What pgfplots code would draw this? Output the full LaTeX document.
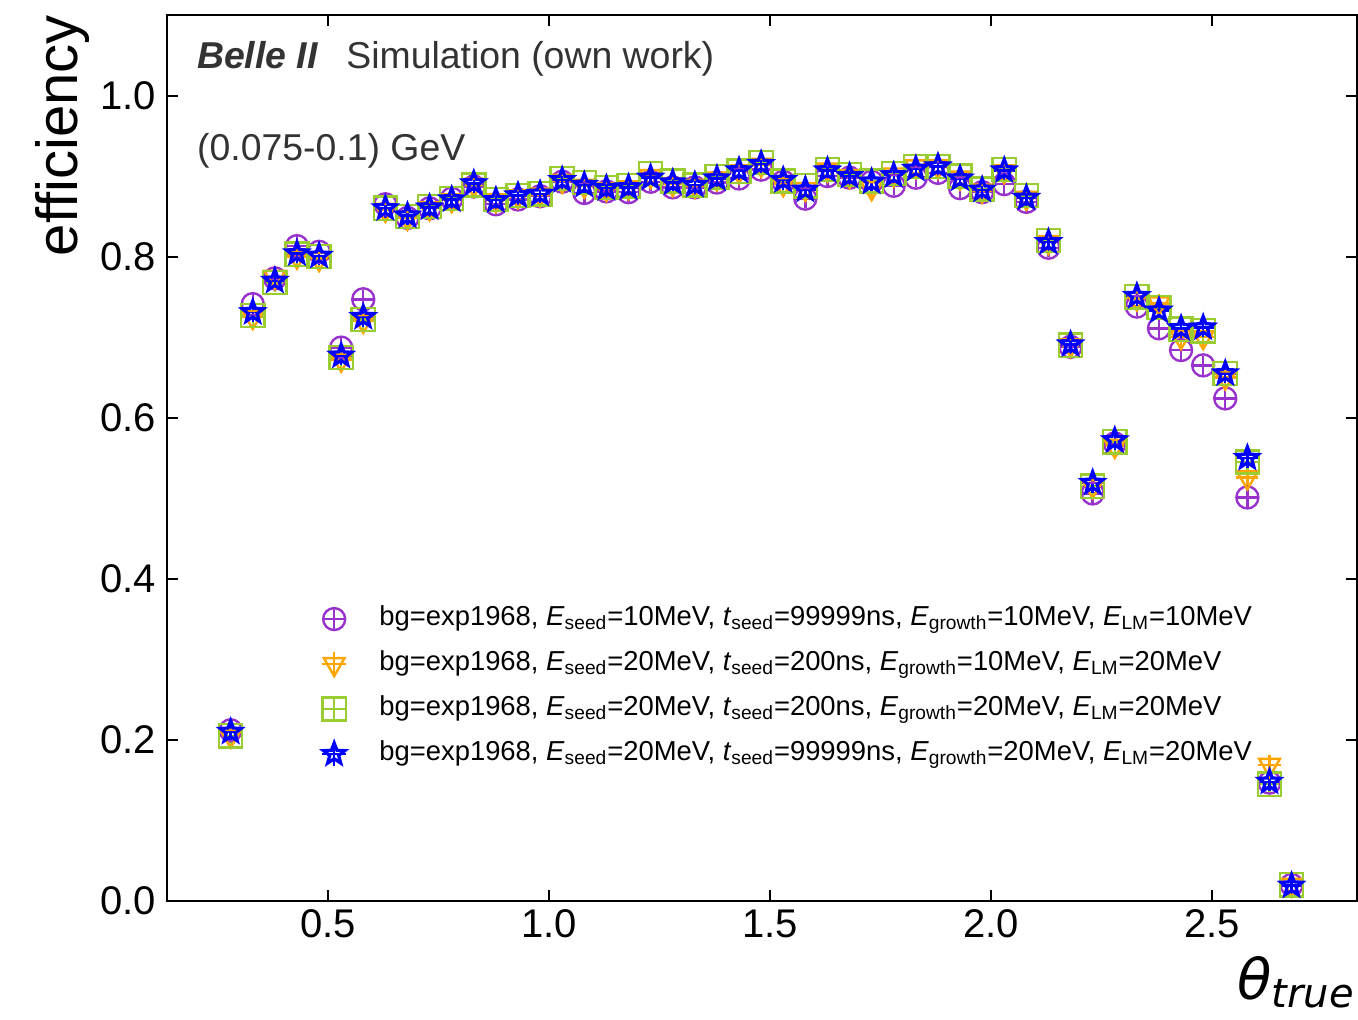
\documentclass[border=0pt]{standalone}
\usepackage{fontspec}
\setmainfont{Liberation Sans}
\newfontfamily\dvs{DejaVu Sans}
\usepackage{pgfplots}
\pgfplotsset{compat=1.18}
\usepackage{pgfplotstable}
\usetikzlibrary{plotmarks}

\definecolor{cP}{HTML}{9932CC}
\definecolor{cO}{HTML}{FFA500}
\definecolor{cG}{HTML}{9ACD32}
\definecolor{cB}{HTML}{0000FF}
\definecolor{tgray}{HTML}{333333}

\pgfdeclareplotmark{fstar}{%
  \pgfpathmoveto{\pgfpointpolar{90}{\pgfplotmarksize}}%
  \pgfpathlineto{\pgfpointpolar{126}{0.42\pgfplotmarksize}}%
  \pgfpathlineto{\pgfpointpolar{162}{\pgfplotmarksize}}%
  \pgfpathlineto{\pgfpointpolar{198}{0.42\pgfplotmarksize}}%
  \pgfpathlineto{\pgfpointpolar{234}{\pgfplotmarksize}}%
  \pgfpathlineto{\pgfpointpolar{270}{0.42\pgfplotmarksize}}%
  \pgfpathlineto{\pgfpointpolar{306}{\pgfplotmarksize}}%
  \pgfpathlineto{\pgfpointpolar{342}{0.42\pgfplotmarksize}}%
  \pgfpathlineto{\pgfpointpolar{18}{\pgfplotmarksize}}%
  \pgfpathlineto{\pgfpointpolar{54}{0.42\pgfplotmarksize}}%
  \pgfpathclose
  \pgfusepathqstroke}

\pgfplotsset{
  legcross/.style={legend image code/.code={%
    \draw[line width=1.2pt,#1] (-6pt,0pt)--(6pt,0pt) (0pt,-6pt)--(0pt,6pt);
    \draw[##1] plot coordinates {(0pt,0pt)};}},
  myerr/.style={error bars/x dir=both, error bars/x fixed=0.025,
    error bars/y dir=both, error bars/y fixed=0.012,
    error bars/error mark=none,
    error bars/error bar style={line width=1.2pt, #1}},
}

\pgfplotstableread{
x P O G B
0.28 0.212 0.205 0.205 0.210
0.33 0.741 0.725 0.727 0.731
0.38 0.773 0.775 0.768 0.770
0.43 0.813 0.800 0.803 0.804
0.48 0.806 0.797 0.800 0.801
0.53 0.687 0.672 0.675 0.677
0.58 0.747 0.720 0.722 0.725
0.63 0.865 0.858 0.860 0.860
0.68 0.848 0.848 0.850 0.851
0.73 0.860 0.860 0.862 0.861
0.78 0.872 0.870 0.872 0.871
0.83 0.887 0.889 0.889 0.891
0.88 0.865 0.870 0.871 0.870
0.93 0.871 0.875 0.876 0.876
0.98 0.875 0.877 0.878 0.878
1.03 0.893 0.894 0.897 0.895
1.08 0.879 0.888 0.892 0.889
1.13 0.881 0.884 0.886 0.885
1.18 0.880 0.886 0.888 0.886
1.23 0.893 0.900 0.903 0.898
1.28 0.886 0.890 0.894 0.892
1.33 0.886 0.888 0.889 0.889
1.38 0.892 0.897 0.899 0.897
1.43 0.897 0.906 0.906 0.907
1.48 0.908 0.914 0.917 0.915
1.53 0.893 0.890 0.894 0.895
1.58 0.872 0.884 0.888 0.883
1.63 0.900 0.908 0.908 0.907
1.68 0.898 0.900 0.902 0.900
1.73 0.893 0.885 0.894 0.893
1.78 0.888 0.902 0.903 0.901
1.83 0.898 0.912 0.912 0.909
1.88 0.904 0.912 0.912 0.912
1.93 0.885 0.898 0.900 0.897
1.98 0.880 0.882 0.884 0.883
2.03 0.890 0.906 0.908 0.907
2.08 0.868 0.873 0.876 0.873
2.13 0.811 0.818 0.820 0.818
2.18 0.688 0.690 0.690 0.691
2.23 0.506 0.515 0.515 0.519
2.28 0.568 0.565 0.570 0.572
2.33 0.738 0.748 0.750 0.751
2.38 0.711 0.742 0.737 0.733
2.43 0.684 0.700 0.710 0.711
2.48 0.665 0.700 0.708 0.712
2.53 0.624 0.650 0.655 0.655
2.58 0.501 0.526 0.545 0.550
2.63 0.147 0.169 0.145 0.148
2.68 0.020 0.020 0.020 0.019
}\data

\begin{document}
\begin{tikzpicture}
\begin{axis}[
  scale only axis, width=595pt, height=443pt,
  xmin=0.136, xmax=2.828, ymin=0, ymax=1.1,
  xtick={0.5,1.0,1.5,2.0,2.5},
  ytick={0,0.2,0.4,0.6,0.8,1.0},
  /pgf/number format/fixed,
  /pgf/number format/fixed zerofill,
  /pgf/number format/precision=1,
  /pgf/number format/assume math mode=true,
  tick label style={font=\fontsize{20}{24}\selectfont},
  xticklabel style={yshift=-1pt},
  yticklabel style={xshift=-2pt},
  major tick length=5.5pt,
  tick style={line width=1pt, black},
  axis line style={line width=1pt},
  minor tick num=0,
  tick align=inside,
  legend cell align=left,
  legend style={draw=none, fill=none, inner sep=0pt, outer sep=0pt,
    at={(rel axis cs:0.1294,0.3385)}, anchor=north west,
    row sep=4.5pt, column sep=14pt,
    nodes={font=\fontsize{13.7}{16}\selectfont, text height=10pt, text depth=4pt, inner sep=2pt}},
]
\addplot+[only marks, draw=cP, mark=o, mark size=5.5pt,
  mark options={line width=1.2pt, draw=cP, fill=none, solid},
  myerr=cP, legcross=cP]
  table[x=x, y=P] {\data};
\addlegendentry{bg=exp1968, \textit{E}\textsubscript{seed}=10MeV, \textit{t}\textsubscript{seed}=99999ns, \textit{E}\textsubscript{growth}=10MeV, \textit{E}\textsubscript{LM}=10MeV}
\addplot+[only marks, draw=cO, mark=triangle, mark size=6pt,
  mark options={line width=1.2pt, draw=cO, fill=none, solid, rotate=180},
  myerr=cO, legcross=cO]
  table[x=x, y=O] {\data};
\addlegendentry{bg=exp1968, \textit{E}\textsubscript{seed}=20MeV, \textit{t}\textsubscript{seed}=200ns, \textit{E}\textsubscript{growth}=10MeV, \textit{E}\textsubscript{LM}=20MeV}
\addplot+[only marks, draw=cG, mark=square, mark size=5.8pt,
  mark options={line width=1.2pt, draw=cG, fill=none, solid},
  myerr=cG, legcross=cG]
  table[x=x, y=G] {\data};
\addlegendentry{bg=exp1968, \textit{E}\textsubscript{seed}=20MeV, \textit{t}\textsubscript{seed}=200ns, \textit{E}\textsubscript{growth}=20MeV, \textit{E}\textsubscript{LM}=20MeV}
\addplot+[only marks, draw=cB, mark=fstar, mark size=5.6pt,
  mark options={line width=1.6pt, draw=cB, fill=none, solid},
  myerr=cB, legcross=cB]
  table[x=x, y=B] {\data};
\addlegendentry{bg=exp1968, \textit{E}\textsubscript{seed}=20MeV, \textit{t}\textsubscript{seed}=99999ns, \textit{E}\textsubscript{growth}=20MeV, \textit{E}\textsubscript{LM}=20MeV}

\node[anchor=base west, text=tgray, font=\fontsize{18.7}{22}\selectfont, inner sep=0pt]
  at (rel axis cs:0.025,0.940) {\textbf{\textit{Belle II}}\hspace{14pt}Simulation (own work)};
\node[anchor=base west, text=tgray, font=\fontsize{18.7}{22}\selectfont, inner sep=0pt]
  at (rel axis cs:0.025,0.836) {(0.075-0.1) GeV};
\end{axis}
\node[anchor=base east, rotate=90, inner sep=0pt, font=\fontsize{29}{34}\selectfont]
  at ([xshift=-44.5pt]current axis.north west) {efficiency};
\node[anchor=base east, inner sep=0pt, font=\dvs\itshape]
  at ([xshift=-1.5pt,yshift=-49.5pt]current axis.south east) {{\fontsize{28}{32}\selectfont θ}\raisebox{-4pt}{\fontsize{20}{24}\selectfont true}};
\pgfresetboundingbox
\useasboundingbox ([xshift=-83.5pt,yshift=-59.5pt]current axis.south west) rectangle ([xshift=0.5pt,yshift=7.5pt]current axis.north east);
\end{tikzpicture}
\end{document}
